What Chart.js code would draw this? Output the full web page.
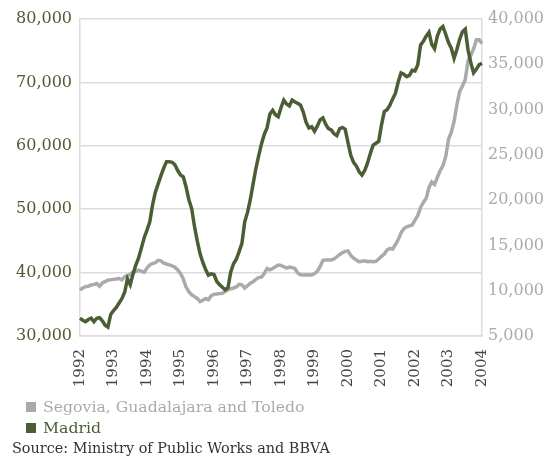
<!DOCTYPE html>
<html lang="en">
<head>
  <meta charset="utf-8">
  <title>Madrid vs Segovia, Guadalajara and Toledo</title>
  <script src="https://cdn.jsdelivr.net/npm/chart.js@4.4.0/dist/chart.umd.min.js"></script>
  <style>
    body { margin: 0; background: #fff; font-family: 'DejaVu Serif', serif; }
    #wrap { position: relative; width: 548px; height: 457px; }
    .legend { position: absolute; left: 26px; font-size: 15.7px; line-height: 18px; }
    .legend span.box { display: inline-block; width: 10px; height: 10px; margin-right: 7px; }
    #source { position: absolute; left: 12px; top: 440px; font-size: 14.4px; color: #333; }
  </style>
</head>
<body>
  <div id="wrap">
    <canvas id="myChart" width="548" height="457"></canvas>
    <div class="legend" id="legGray" style="top:398px;color:#aaaaaa"><span class="box" style="background:#aaaaaa"></span>Segovia, Guadalajara and Toledo</div>
    <div class="legend" id="legGreen" style="top:419px;color:#4b5e33"><span class="box" style="background:#4b5e33"></span>Madrid</div>
    <div id="source">Source: Ministry of Public Works and BBVA</div>
  </div>

  <script>
    // monthly, Jan 1992 .. Jan 2004
    const years = [1992, 1993, 1994, 1995, 1996, 1997, 1998, 1999, 2000, 2001, 2002, 2003, 2004];

    // Madrid (left axis)
    const madrid = [
      32800, 32500, 32250, 32600, 32800, 32250, 32800, 32900, 32400, 31700, 31400, 33400,
      34000, 34500, 35200, 35900, 36900, 39000, 38100, 39800, 41200, 42300, 43900, 45500,
      46700, 48000, 50700, 52700, 54000, 55300, 56500, 57500, 57500, 57400, 57000, 56100,
      55400, 55100, 53500, 51500, 50100, 47300, 45000, 43000, 41600, 40500, 39600, 39800,
      39700, 38600, 38100, 37700, 37300, 37600, 40100, 41400, 42100, 43300, 44600, 48000,
      49500, 51500, 54000, 56400, 58400, 60300, 61800, 62800, 65000, 65600, 64900, 64600,
      66000, 67200, 66600, 66300, 67200, 66900, 66700, 66400, 65300, 63700, 62800, 63000,
      62300, 63100, 64100, 64400, 63400, 62700, 62500, 61900, 61600, 62700, 62900, 62600,
      60500, 58500, 57400, 56800, 55900, 55400, 56100, 57300, 58800, 60100, 60400, 60700,
      63300, 65400, 65700, 66400, 67400, 68300, 70100, 71500, 71300, 70900, 71100, 71900,
      71800, 72800, 75900, 76500, 77300, 77900, 76000, 75300, 77300, 78400, 78800, 77600,
      76300, 75400, 73800, 75200, 76800, 78000, 78400, 75100, 73100, 71500, 72100, 72800,
      73000
    ];

    // Segovia, Guadalajara and Toledo (right axis)
    const segovia = [
      10080, 10300, 10450, 10500, 10630, 10700, 10800, 10500, 10850, 11000, 11150, 11200,
      11250, 11300, 11350, 11200, 11550, 11650, 11800, 12050, 12150, 12280, 12150, 12050,
      12500, 12850, 13000, 13100, 13350, 13300, 13050, 12950, 12850, 12750, 12600, 12300,
      11900, 11300, 10400, 9900, 9550, 9350, 9150, 8800, 8950, 9150, 9000, 9450,
      9600, 9640, 9680, 9720, 9900, 10100, 10220, 10300, 10420, 10700, 10650, 10300,
      10550, 10820, 11000, 11250, 11450, 11500, 11900, 12450, 12300, 12450, 12650, 12840,
      12800, 12650, 12500, 12600, 12550, 12450, 11950, 11750, 11730, 11730, 11750, 11730,
      11900, 12150, 12650, 13350, 13400, 13390, 13400, 13500, 13750, 14000, 14200, 14350,
      14400, 13900, 13600, 13400, 13200, 13250, 13300, 13200, 13250, 13200, 13250, 13500,
      13800, 14050, 14500, 14650, 14600, 15100, 15650, 16400, 16850, 17050, 17150, 17260,
      17800, 18300, 19200, 19750, 20200, 21400, 22000, 21750, 22500, 23250, 23800, 24800,
      26700, 27500, 28700, 30500, 32000, 32600, 33300, 35400, 36000, 36700, 37700, 37700,
      37300
    ];

    const labels = [];
    years.forEach(y => {
      for (let m = 1; m <= 12; m++) {
        if (y === 2004 && m > 1) break;
        labels.push(y + '-' + (m < 10 ? '0' + m : m));
      }
    });

    const green = '#4b5e33';
    const gray = '#aaaaaa';
    const gridColor = '#dcdcdc';

    Chart.defaults.font.family = "'DejaVu Serif', serif";

    const config = {
      type: 'line',
      data: {
        labels: labels,
        datasets: [
          {
            label: 'Madrid',
            data: madrid,
            yAxisID: 'y',
            borderColor: green,
            borderWidth: 3.5,
            pointRadius: 0,
            tension: 0
          },
          {
            label: 'Segovia, Guadalajara and Toledo',
            data: segovia,
            yAxisID: 'y2',
            borderColor: gray,
            borderWidth: 3.5,
            pointRadius: 0,
            tension: 0
          }
        ]
      },
      options: {
        responsive: false,
        animation: false,
        layout: { padding: { top: 19, left: 0, right: 0, bottom: 0 } },
        plugins: {
          legend: { display: false },
          tooltip: { enabled: false }
        },
        scales: {
          x: {
            offset: false,
            grid: { display: false, drawTicks: false },
            border: { color: gridColor, width: 1.5 },
            ticks: {
              autoSkip: false,
              maxRotation: 90,
              minRotation: 90,
              padding: 13,
              color: '#444',
              font: { size: 15 },
              callback: function (val, i) {
                const l = labels[i];
                return l.endsWith('-01') ? l.slice(0, 4) : null;
              }
            },
            afterFit: s => { s.height = 121; }
          },
          y: {
            position: 'left',
            min: 30000,
            max: 80000,
            grid: { color: gridColor, lineWidth: 1.5, drawTicks: false },
            border: { color: gridColor, width: 1.5 },
            ticks: {
              stepSize: 10000,
              padding: 8,
              color: green,
              font: { size: 16 },
              callback: v => v.toLocaleString('en-US')
            },
            afterFit: s => { s.width = 80; }
          },
          y2: {
            position: 'right',
            min: 5000,
            max: 40000,
            grid: { display: false, drawTicks: false },
            border: { color: gridColor, width: 1.5 },
            ticks: {
              stepSize: 5000,
              padding: 6,
              color: gray,
              font: { size: 16 },
              callback: v => v.toLocaleString('en-US')
            },
            afterFit: s => { s.width = 66; }
          }
        }
      }
    };

    const myChart = new Chart(document.getElementById('myChart'), config);
  </script>
</body>
</html>
